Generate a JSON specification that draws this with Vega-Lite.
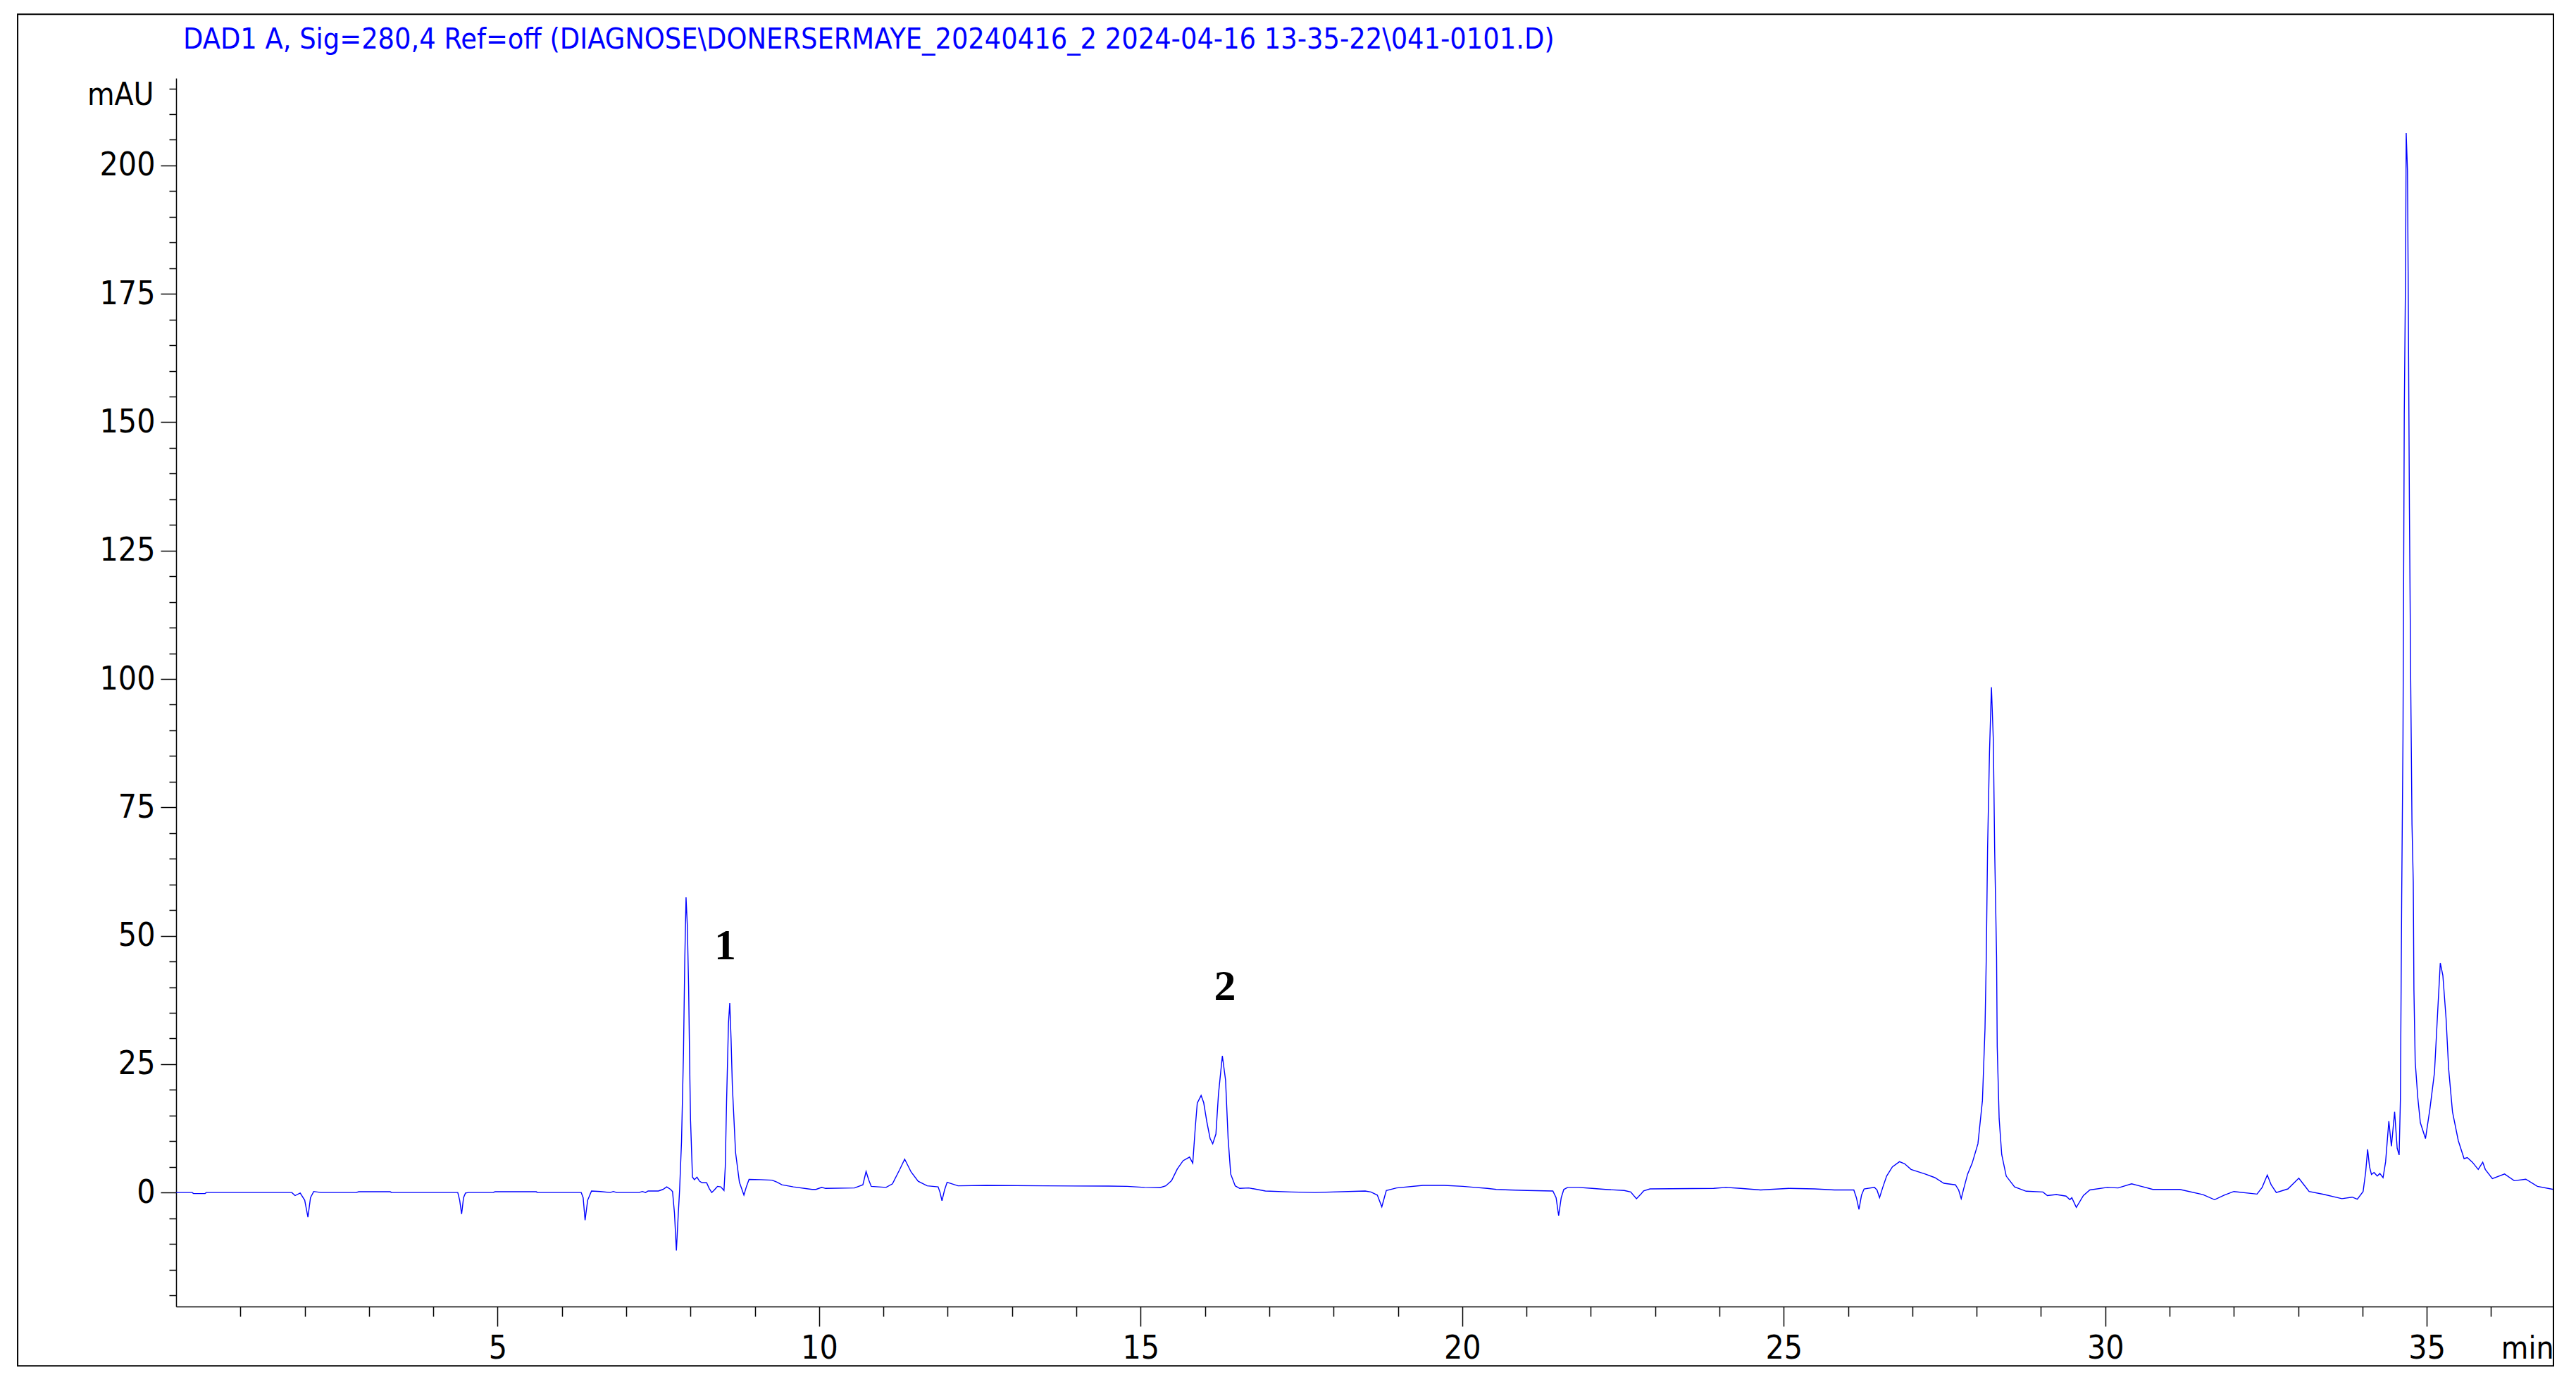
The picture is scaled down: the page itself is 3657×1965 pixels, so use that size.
{
  "$schema": "https://vega.github.io/schema/vega-lite/v6.json",
  "width": 3375,
  "height": 1744,
  "autosize": {"type": "none"},
  "padding": {"left": 250, "top": 111, "right": 32, "bottom": 110},
  "background": "white",
  "config": {"view": {"stroke": null}},
  "title": {
    "text": "DAD1 A, Sig=280,4 Ref=off (DIAGNOSE\\DONERSERMAYE_20240416_2 2024-04-16 13-35-22\\041-0101.D)",
    "anchor": "start",
    "frame": "group",
    "dx": 10,
    "offset": -59,
    "font": "DejaVu Sans Condensed, Liberation Sans",
    "fontSize": 41,
    "fontWeight": "normal",
    "color": "#0000FF"
  },
  "datasets": {
    "trace": [
      {"t": 0, "v": 0}, {"t": 0.25, "v": 0}, {"t": 0.27, "v": -0.2}, {"t": 0.45, "v": -0.2}, {"t": 0.47, "v": 0},
      {"t": 1.8, "v": 0}, {"t": 1.85, "v": -0.6}, {"t": 1.93, "v": -0.1}, {"t": 2.0, "v": -1.5}, {"t": 2.05, "v": -4.8},
      {"t": 2.09, "v": -1.0}, {"t": 2.14, "v": 0.2}, {"t": 2.25, "v": 0}, {"t": 2.8, "v": 0}, {"t": 2.84, "v": 0.15},
      {"t": 3.33, "v": 0.15}, {"t": 3.35, "v": 0}, {"t": 4.38, "v": 0}, {"t": 4.41, "v": -1.5}, {"t": 4.44, "v": -4.2},
      {"t": 4.47, "v": -1.0}, {"t": 4.5, "v": -0.1}, {"t": 4.55, "v": 0}, {"t": 4.93, "v": 0}, {"t": 4.96, "v": 0.15},
      {"t": 5.6, "v": 0.15}, {"t": 5.62, "v": 0}, {"t": 6.3, "v": 0}, {"t": 6.33, "v": -1.0}, {"t": 6.36, "v": -5.4},
      {"t": 6.4, "v": -1.5}, {"t": 6.46, "v": 0.3}, {"t": 6.6, "v": 0.2}, {"t": 6.75, "v": 0}, {"t": 6.8, "v": 0.2},
      {"t": 6.85, "v": 0}, {"t": 7.2, "v": 0}, {"t": 7.25, "v": 0.2}, {"t": 7.3, "v": 0}, {"t": 7.34, "v": 0.3},
      {"t": 7.5, "v": 0.3}, {"t": 7.57, "v": 0.6}, {"t": 7.63, "v": 1.1}, {"t": 7.69, "v": 0.6}, {"t": 7.72, "v": 0.2},
      {"t": 7.75, "v": -4}, {"t": 7.78, "v": -11.3}, {"t": 7.81, "v": -4}, {"t": 7.83, "v": 0.5}, {"t": 7.86, "v": 10},
      {"t": 7.89, "v": 27.1}, {"t": 7.91, "v": 45}, {"t": 7.93, "v": 57.5}, {"t": 7.95, "v": 52}, {"t": 7.97, "v": 40.1},
      {"t": 7.99, "v": 22}, {"t": 8.0, "v": 14.1}, {"t": 8.03, "v": 3.0}, {"t": 8.06, "v": 2.5}, {"t": 8.1, "v": 3.0},
      {"t": 8.14, "v": 2.2}, {"t": 8.18, "v": 1.9}, {"t": 8.25, "v": 1.9}, {"t": 8.29, "v": 0.8}, {"t": 8.33, "v": 0},
      {"t": 8.37, "v": 0.5}, {"t": 8.42, "v": 1.2}, {"t": 8.47, "v": 1.1}, {"t": 8.52, "v": 0.4}, {"t": 8.54, "v": 5},
      {"t": 8.56, "v": 17.5}, {"t": 8.59, "v": 33}, {"t": 8.61, "v": 36.9}, {"t": 8.63, "v": 30}, {"t": 8.65, "v": 20.8},
      {"t": 8.7, "v": 7.8}, {"t": 8.76, "v": 2.0}, {"t": 8.83, "v": -0.5}, {"t": 8.87, "v": 1.2}, {"t": 8.91, "v": 2.55},
      {"t": 9.09, "v": 2.5}, {"t": 9.27, "v": 2.4}, {"t": 9.35, "v": 2.0}, {"t": 9.42, "v": 1.5}, {"t": 9.6, "v": 1.1},
      {"t": 9.89, "v": 0.6}, {"t": 9.95, "v": 0.6}, {"t": 10.04, "v": 1.0}, {"t": 10.1, "v": 0.8}, {"t": 10.55, "v": 0.9},
      {"t": 10.68, "v": 1.5}, {"t": 10.73, "v": 4.1}, {"t": 10.77, "v": 2.5}, {"t": 10.81, "v": 1.2}, {"t": 11.04, "v": 1.0},
      {"t": 11.14, "v": 1.7}, {"t": 11.25, "v": 4.4}, {"t": 11.33, "v": 6.5}, {"t": 11.43, "v": 4.0}, {"t": 11.54, "v": 2.2},
      {"t": 11.68, "v": 1.3}, {"t": 11.85, "v": 1.1}, {"t": 11.88, "v": 0}, {"t": 11.91, "v": -1.6}, {"t": 11.95, "v": 0.5},
      {"t": 11.99, "v": 2.0}, {"t": 12.16, "v": 1.3}, {"t": 12.6, "v": 1.4}, {"t": 13.5, "v": 1.3}, {"t": 14.5, "v": 1.25},
      {"t": 14.79, "v": 1.2}, {"t": 15.06, "v": 1.0}, {"t": 15.3, "v": 0.95}, {"t": 15.39, "v": 1.3}, {"t": 15.48, "v": 2.3},
      {"t": 15.57, "v": 4.6}, {"t": 15.66, "v": 6.2}, {"t": 15.76, "v": 6.9}, {"t": 15.81, "v": 5.7}, {"t": 15.85, "v": 12.8},
      {"t": 15.88, "v": 17.4}, {"t": 15.94, "v": 18.9}, {"t": 15.98, "v": 17.5}, {"t": 16.03, "v": 13.7}, {"t": 16.08, "v": 10.5},
      {"t": 16.12, "v": 9.5}, {"t": 16.17, "v": 11.4}, {"t": 16.21, "v": 19.2}, {"t": 16.27, "v": 26.6}, {"t": 16.32, "v": 21.9},
      {"t": 16.36, "v": 10.5}, {"t": 16.4, "v": 3.6}, {"t": 16.47, "v": 1.3}, {"t": 16.54, "v": 0.8}, {"t": 16.68, "v": 0.9},
      {"t": 16.94, "v": 0.3}, {"t": 17.34, "v": 0.1}, {"t": 17.71, "v": 0}, {"t": 18.49, "v": 0.3}, {"t": 18.58, "v": 0.1},
      {"t": 18.68, "v": -0.5}, {"t": 18.75, "v": -2.8}, {"t": 18.8, "v": -0.5}, {"t": 18.82, "v": 0.4}, {"t": 18.98, "v": 0.9},
      {"t": 19.39, "v": 1.4}, {"t": 19.72, "v": 1.4}, {"t": 20.01, "v": 1.2}, {"t": 20.2, "v": 1.0}, {"t": 20.39, "v": 0.8},
      {"t": 20.53, "v": 0.6}, {"t": 20.74, "v": 0.5}, {"t": 21.01, "v": 0.4}, {"t": 21.41, "v": 0.3}, {"t": 21.46, "v": -1.0},
      {"t": 21.5, "v": -4.5}, {"t": 21.54, "v": -1.0}, {"t": 21.58, "v": 0.6}, {"t": 21.64, "v": 1.0}, {"t": 21.81, "v": 1.0},
      {"t": 22.02, "v": 0.8}, {"t": 22.23, "v": 0.6}, {"t": 22.52, "v": 0.4}, {"t": 22.62, "v": 0.1}, {"t": 22.71, "v": -1.2},
      {"t": 22.78, "v": -0.3}, {"t": 22.82, "v": 0.3}, {"t": 22.92, "v": 0.7}, {"t": 23.91, "v": 0.8}, {"t": 24.1, "v": 1.0},
      {"t": 24.33, "v": 0.8}, {"t": 24.64, "v": 0.5}, {"t": 25.08, "v": 0.8}, {"t": 25.48, "v": 0.7}, {"t": 25.79, "v": 0.5},
      {"t": 26.09, "v": 0.5}, {"t": 26.13, "v": -1.0}, {"t": 26.17, "v": -3.3}, {"t": 26.21, "v": -0.5}, {"t": 26.25, "v": 0.7},
      {"t": 26.41, "v": 1.0}, {"t": 26.45, "v": 0.5}, {"t": 26.49, "v": -1.0}, {"t": 26.54, "v": 1.0}, {"t": 26.6, "v": 3.2},
      {"t": 26.69, "v": 5.0}, {"t": 26.8, "v": 6.0}, {"t": 26.88, "v": 5.6}, {"t": 26.98, "v": 4.5}, {"t": 27.2, "v": 3.6},
      {"t": 27.35, "v": 2.9}, {"t": 27.49, "v": 1.8}, {"t": 27.67, "v": 1.5}, {"t": 27.72, "v": 0.5}, {"t": 27.76, "v": -1.2},
      {"t": 27.8, "v": 0.8}, {"t": 27.86, "v": 3.6}, {"t": 27.93, "v": 5.7}, {"t": 28.02, "v": 9.5}, {"t": 28.09, "v": 17.9},
      {"t": 28.13, "v": 31.9}, {"t": 28.15, "v": 45.9}, {"t": 28.17, "v": 66.9}, {"t": 28.2, "v": 85.8}, {"t": 28.23, "v": 98.4},
      {"t": 28.26, "v": 87.9}, {"t": 28.28, "v": 66.9}, {"t": 28.31, "v": 45.9}, {"t": 28.32, "v": 28.4}, {"t": 28.35, "v": 14.4},
      {"t": 28.39, "v": 7.4}, {"t": 28.46, "v": 3.2}, {"t": 28.59, "v": 1.1}, {"t": 28.77, "v": 0.25}, {"t": 29.03, "v": 0.1},
      {"t": 29.1, "v": -0.6}, {"t": 29.24, "v": -0.4}, {"t": 29.39, "v": -0.7}, {"t": 29.45, "v": -1.4}, {"t": 29.48, "v": -1.0},
      {"t": 29.55, "v": -2.9}, {"t": 29.66, "v": -0.6}, {"t": 29.76, "v": 0.5}, {"t": 30.03, "v": 1.0}, {"t": 30.2, "v": 0.9},
      {"t": 30.41, "v": 1.7}, {"t": 30.56, "v": 1.2}, {"t": 30.74, "v": 0.6}, {"t": 31.16, "v": 0.6}, {"t": 31.52, "v": -0.4},
      {"t": 31.7, "v": -1.4}, {"t": 31.85, "v": -0.5}, {"t": 32.0, "v": 0.2}, {"t": 32.36, "v": -0.3}, {"t": 32.44, "v": 1.0},
      {"t": 32.52, "v": 3.4}, {"t": 32.58, "v": 1.5}, {"t": 32.66, "v": 0}, {"t": 32.84, "v": 0.7}, {"t": 33.01, "v": 2.8},
      {"t": 33.09, "v": 1.5}, {"t": 33.17, "v": 0.2}, {"t": 33.41, "v": -0.4}, {"t": 33.68, "v": -1.2}, {"t": 33.84, "v": -0.9},
      {"t": 33.92, "v": -1.3}, {"t": 34.01, "v": 0.2}, {"t": 34.05, "v": 4}, {"t": 34.08, "v": 8.4}, {"t": 34.11, "v": 5},
      {"t": 34.14, "v": 3.5}, {"t": 34.18, "v": 3.9}, {"t": 34.23, "v": 3.2}, {"t": 34.27, "v": 3.7}, {"t": 34.32, "v": 2.9},
      {"t": 34.36, "v": 6}, {"t": 34.41, "v": 13.9}, {"t": 34.45, "v": 9.0}, {"t": 34.5, "v": 15.7}, {"t": 34.54, "v": 8.6},
      {"t": 34.57, "v": 7.3}, {"t": 34.59, "v": 18.2}, {"t": 34.61, "v": 57.7}, {"t": 34.63, "v": 88.5}, {"t": 34.64, "v": 118.6},
      {"t": 34.65, "v": 151.5}, {"t": 34.67, "v": 179.4}, {"t": 34.68, "v": 206.3}, {"t": 34.7, "v": 199}, {"t": 34.71, "v": 179.4},
      {"t": 34.73, "v": 133.3}, {"t": 34.75, "v": 99.7}, {"t": 34.77, "v": 71.7}, {"t": 34.79, "v": 60.5}, {"t": 34.8, "v": 39.5},
      {"t": 34.82, "v": 25.5}, {"t": 34.86, "v": 18.5}, {"t": 34.9, "v": 13.6}, {"t": 34.98, "v": 10.5}, {"t": 35.05, "v": 16.4},
      {"t": 35.12, "v": 23.4}, {"t": 35.17, "v": 35.3}, {"t": 35.21, "v": 44.7}, {"t": 35.25, "v": 42.3}, {"t": 35.3, "v": 33.9},
      {"t": 35.34, "v": 24.1}, {"t": 35.4, "v": 15.7}, {"t": 35.49, "v": 10.1}, {"t": 35.58, "v": 6.6}, {"t": 35.63, "v": 6.8},
      {"t": 35.71, "v": 5.9}, {"t": 35.8, "v": 4.5}, {"t": 35.87, "v": 5.9}, {"t": 35.91, "v": 4.5}, {"t": 36.02, "v": 2.7},
      {"t": 36.21, "v": 3.6}, {"t": 36.36, "v": 2.3}, {"t": 36.54, "v": 2.6}, {"t": 36.72, "v": 1.2}, {"t": 36.97, "v": 0.6}
    ],
    "peaks": [
      {"t": 8.54, "v": 45.4, "label": "1"},
      {"t": 16.31, "v": 37.4, "label": "2"}
    ],
    "frame": [
      {"x0": -2.464, "x1": 36.97, "y0": -33.74, "y1": 229.45}
    ]
  },
  "resolve": {"axis": {"y": "independent"}},
  "layer": [
    {
      "data": {"name": "trace"},
      "mark": {"type": "line", "color": "#0000FF", "strokeWidth": 1.4, "interpolate": "linear"},
      "encoding": {
        "x": {
          "field": "t", "type": "quantitative",
          "scale": {"domain": [0, 36.97], "nice": false, "zero": false},
          "axis": {
            "values": [1,2,3,4,5,6,7,8,9,10,11,12,13,14,15,16,17,18,19,20,21,22,23,24,25,26,27,28,29,30,31,32,33,34,35,36],
            "format": "d",
            "labelExpr": "datum.value % 5 === 0 ? datum.label : ''",
            "tickSize": {"condition": {"test": "datum.value % 5 === 0", "value": 28}, "value": 14},
            "labelFontSize": {"condition": {"test": "datum.value % 5 !== 0", "value": 0}, "value": 46},
            "labelPadding": 45,
            "labelBaseline": "alphabetic",
            "labelFont": "DejaVu Sans Condensed, Liberation Sans",
            "labelColor": "black",
            "labelFlush": false,
            "labelOverlap": false,
            "labelBound": false,
            "grid": false,
            "domainColor": "black", "domainWidth": 1.5,
            "tickColor": "black", "tickWidth": 1.5,
            "title": "min",
            "titleX": 3375, "titleY": 73,
            "titleAlign": "right", "titleBaseline": "alphabetic",
            "titleFont": "DejaVu Sans Condensed, Liberation Sans",
            "titleFontSize": 44, "titleFontWeight": "normal", "titleColor": "black"
          }
        },
        "y": {
          "field": "v", "type": "quantitative",
          "scale": {"domain": [-22.2, 217.0], "nice": false, "zero": false},
          "axis": {
            "orient": "left",
            "values": [-20,-15,-10,-5,5,10,15,20,30,35,40,45,55,60,65,70,80,85,90,95,105,110,115,120,130,135,140,145,155,160,165,170,180,185,190,195,205,210,215],
            "labels": false,
            "tickSize": 10,
            "grid": false,
            "domainColor": "black", "domainWidth": 1.5,
            "tickColor": "black", "tickWidth": 1.5,
            "title": "mAU",
            "titleAngle": 0,
            "titleX": -32, "titleY": 24,
            "titleAlign": "right", "titleBaseline": "middle",
            "titleFont": "DejaVu Sans Condensed, Liberation Sans",
            "titleFontSize": 44, "titleFontWeight": "normal", "titleColor": "black"
          }
        }
      }
    },
    {
      "data": {"name": "peaks"},
      "mark": {"type": "text", "font": "Liberation Serif", "fontWeight": "bold", "fontSize": 62, "align": "center", "baseline": "alphabetic", "color": "black"},
      "encoding": {
        "x": {"field": "t", "type": "quantitative"},
        "y": {
          "field": "v", "type": "quantitative",
          "axis": {
            "orient": "left",
            "values": [0, 25, 50, 75, 100, 125, 150, 175, 200],
            "format": "d",
            "tickSize": 22,
            "labelPadding": 8,
            "labelBaseline": "middle",
            "labelFont": "DejaVu Sans Condensed, Liberation Sans",
            "labelFontSize": 46,
            "labelColor": "black",
            "labelFlush": false,
            "labelOverlap": false,
            "labelBound": false,
            "grid": false,
            "domain": false,
            "tickColor": "black", "tickWidth": 1.5,
            "title": null
          }
        },
        "text": {"field": "label"}
      }
    },
    {
      "data": {"name": "frame"},
      "mark": {"type": "rect", "filled": false, "stroke": "black", "strokeWidth": 2},
      "encoding": {
        "x": {"field": "x0", "type": "quantitative"},
        "x2": {"field": "x1"},
        "y": {"field": "y0", "type": "quantitative", "axis": null},
        "y2": {"field": "y1"}
      }
    }
  ]
}
